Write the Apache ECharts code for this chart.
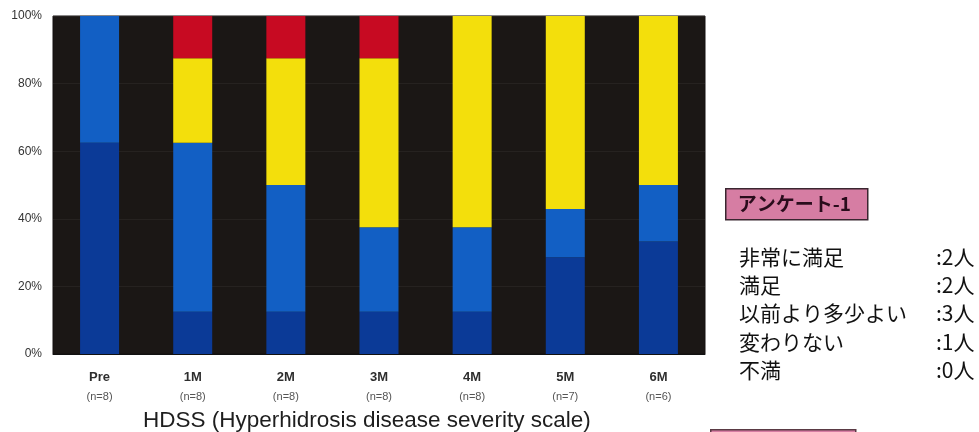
<!DOCTYPE html>
<html>
<head>
<meta charset="utf-8">
<script src="https://cdn.jsdelivr.net/npm/echarts@6/dist/echarts.min.js"></script>
<style>
  html, body { margin: 0; padding: 0; background: #ffffff; }
  #chart { width: 979px; height: 432px; }
</style>
</head>
<body>
<div id="chart"></div>
<script>
// Time points and sample sizes
var categories = ['Pre', '1M', '2M', '3M', '4M', '5M', '6M'];
var sampleSizes = ['(n=8)', '(n=8)', '(n=8)', '(n=8)', '(n=8)', '(n=7)', '(n=6)'];

// Share of patients (%) at each HDSS grade, stacked bottom to top
var hdss4 = [62.5, 12.5, 12.5, 12.5, 12.5, 28.6, 33.3];
var hdss3 = [37.5, 50.0, 37.5, 25.0, 25.0, 14.3, 16.7];
var hdss2 = [0, 25.0, 37.5, 50.0, 62.5, 57.1, 50.0];
var hdss1 = [0, 12.5, 12.5, 12.5, 0, 0, 0];

// Y axis ticks
var yTicks = [0, 20, 40, 60, 80, 100];

// Questionnaire results
var surveyTitle = 'アンケート-1';
var surveyItems = ['非常に満足', '満足', '以前より多少よい', '変わりない', '不満'];
var surveyCounts = [':2人', ':2人', ':3人', ':1人', ':0人'];
var axisTitle = 'HDSS (Hyperhidrosis disease severity scale)';

var chart = echarts.init(document.getElementById('chart'), null, { renderer: 'canvas' });

function barSeries(name, data, color) {
  return {
    name: name,
    type: 'bar',
    stack: 'hdss',
    data: data,
    barWidth: 39,
    itemStyle: { color: color },
    emphasis: { disabled: true }
  };
}

var graphics = [];

// Axis title under the category labels
graphics.push({
  type: 'text',
  x: 143,
  y: 421,
  style: {
    text: axisTitle,
    fill: '#1e1e1e',
    font: '22.5px "Liberation Sans", Arial, sans-serif',
    verticalAlign: 'middle'
  }
});

// Questionnaire heading box
graphics.push({
  type: 'group',
  left: 725,
  top: 188,
  children: [
    {
      type: 'rect',
      shape: { x: 0, y: 0, width: 142, height: 31 },
      style: { fill: '#d67da3', stroke: '#3a2630', lineWidth: 1.5 }
    },
    {
      type: 'text',
      x: 12,
      y: 15.5,
      style: {
        text: surveyTitle,
        fill: '#2a0c1c',
        font: 'bold 19px "Noto Sans CJK JP", sans-serif',
        verticalAlign: 'middle'
      }
    }
  ]
});

// Questionnaire lines
surveyItems.forEach(function (item, i) {
  var rowY = 257 + i * 28.2;
  graphics.push({
    type: 'text',
    x: 739,
    y: rowY,
    style: {
      text: item,
      fill: '#111111',
      font: '21px "Noto Sans CJK JP", sans-serif',
      verticalAlign: 'middle'
    }
  });
  graphics.push({
    type: 'text',
    x: 936,
    y: rowY,
    style: {
      text: surveyCounts[i],
      fill: '#111111',
      font: '21px "Noto Sans CJK JP", sans-serif',
      verticalAlign: 'middle'
    }
  });
});

// Next heading box, cut off at the bottom edge
graphics.push({
  type: 'rect',
  left: 710,
  top: 429,
  shape: { x: 0, y: 0, width: 145, height: 30 },
  style: { fill: '#d67da3', stroke: '#5a3a44', lineWidth: 1.5 }
});

chart.setOption({
  animation: false,
  backgroundColor: '#ffffff',
  grid: {
    left: 53,
    right: 274,
    top: 16,
    bottom: 78,
    show: true,
    backgroundColor: '#1b1715',
    borderColor: '#141110',
    borderWidth: 1
  },
  xAxis: {
    type: 'category',
    data: categories,
    axisLine: { show: true, lineStyle: { color: '#111', width: 1 } },
    axisTick: { show: false },
    splitLine: { show: false },
    axisLabel: {
      margin: 13,
      interval: 0,
      formatter: function (value, idx) {
        return '{a|' + value + '}\n{b|' + sampleSizes[idx] + '}';
      },
      rich: {
        a: { fontSize: 13, color: '#2e2e2e', fontFamily: '"Liberation Sans", Arial, sans-serif', lineHeight: 20, fontWeight: 'bold' },
        b: { fontSize: 11, color: '#555', fontFamily: '"Liberation Sans", Arial, sans-serif', lineHeight: 20 }
      }
    }
  },
  yAxis: {
    type: 'value',
    min: yTicks[0],
    max: yTicks[yTicks.length - 1],
    interval: yTicks[1] - yTicks[0],
    axisLine: { show: false },
    axisTick: { show: false },
    splitLine: { show: true, lineStyle: { color: '#262220', width: 1 } },
    axisLabel: {
      margin: 11,
      formatter: '{value}%',
      color: '#333',
      fontSize: 12,
      fontFamily: '"Liberation Sans Narrow", "Liberation Sans", Arial, sans-serif'
    }
  },
  series: [
    barSeries('HDSS 4', hdss4, '#0b3a97'),
    barSeries('HDSS 3', hdss3, '#125fc4'),
    barSeries('HDSS 2', hdss2, '#f3df0c'),
    barSeries('HDSS 1', hdss1, '#c70a22')
  ],
  graphic: graphics
});
</script>
</body>
</html>
